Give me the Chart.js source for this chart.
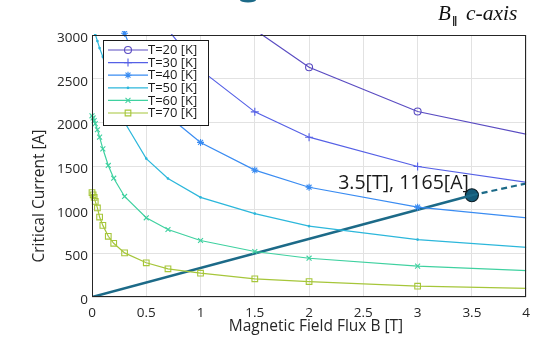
<!DOCTYPE html>
<html>
<head>
<meta charset="utf-8">
<script src="https://cdn.jsdelivr.net/npm/chart.js@4/dist/chart.umd.min.js"></script>
<style>
  html, body { margin: 0; padding: 0; background: #fff; }
  #wrap { width: 538px; height: 337px; }
</style>
</head>
<body>
<div id="wrap"><canvas id="icChart" width="538" height="337"></canvas></div>
<script>
// DATA
const bField = [0, 0.01, 0.02, 0.03, 0.05, 0.07, 0.1, 0.15, 0.2, 0.3, 0.5, 0.7, 1, 1.5, 2, 3, 5];
const ic20 = [null, null, null, null, null, null, null, null, null, null, null, null, 3700, 3060, 2631, 2124, 1604];
const ic30 = [null, null, null, null, null, null, null, null, null, null, 3600, 3060, 2600, 2120, 1830, 1494, 1136];
const ic40 = [null, null, null, null, null, null, null, null, 3500, 3020, 2420, 2075, 1770, 1453, 1257, 1029, 785];
const ic50 = [3200, 3150, 3080, 3010, 2930, 2850, 2750, 2480, 2300, 2000, 1585, 1357, 1141, 955, 811, 658, 482];
const ic60 = [2075, 2050, 2020, 1985, 1915, 1830, 1697, 1506, 1360, 1151, 907, 773, 647, 521, 444, 353, 253];
const ic70 = [1195, 1170, 1140, 1095, 1020, 915, 820, 695, 615, 505, 392, 323, 273, 208, 177, 124, 76];
const tempLabels = ['T=20 [K]', 'T=30 [K]', 'T=40 [K]', 'T=50 [K]', 'T=60 [K]', 'T=70 [K]'];
const loadLineB = [0, 3.5];
const loadLineI = [0, 1165];
const loadDashB = [3.5, 4];
const loadDashI = [1165, 1300];
const opPoint = [3.5, 1165];
const xTicks = [0, 0.5, 1, 1.5, 2, 2.5, 3, 3.5, 4];
const yTicks = [0, 500, 1000, 1500, 2000, 2500, 3000];

const FONT = '"Open Sans", "Noto Sans", sans-serif';
const TEXT = '#262626';

function pts(xs, ys) {
  return xs.map((b, i) => ({ x: b, y: ys[i] }));
}

const curveStyles = [
  { color: '#5a4cc2', pointStyle: 'circle', radius: 3.5 },
  { color: '#5560e6', pointStyle: 'cross', radius: 4 },
  { color: '#3a8cf2', pointStyle: 'star', radius: 3.5 },
  { color: '#2cb7db', pointStyle: 'circle', radius: 0.8 },
  { color: '#3fd1a0', pointStyle: 'crossRot', radius: 3.5 },
  { color: '#a6c63a', pointStyle: 'rect', radius: 4 }
];

const curves = [ic20, ic30, ic40, ic50, ic60, ic70];

const datasets = curves.map((vals, i) => ({
  label: tempLabels[i],
  data: pts(bField, vals),
  borderColor: curveStyles[i].color,
  backgroundColor: 'transparent',
  borderWidth: 1.2,
  pointStyle: curveStyles[i].pointStyle,
  pointRadius: curveStyles[i].radius,
  pointBorderColor: curveStyles[i].color,
  pointBackgroundColor: i === 3 ? curveStyles[i].color : 'transparent',
  pointBorderWidth: 1.1,
  tension: 0,
  clip: { left: 6, top: i === 2 ? 4 : 1, right: 0, bottom: 0 }
}));

datasets.push({
  label: 'load',
  data: pts(loadLineB, loadLineI),
  borderColor: '#1c6a88',
  borderWidth: 2.6,
  pointRadius: 0,
  clip: 0
});
datasets.push({
  label: 'load ext',
  data: pts(loadDashB, loadDashI),
  borderColor: '#1c6a88',
  borderWidth: 2.2,
  borderDash: [6, 4],
  pointRadius: 0,
  clip: 0
});
datasets.push({
  label: 'op',
  data: [{ x: opPoint[0], y: opPoint[1] }],
  showLine: false,
  pointRadius: 6.5,
  pointBackgroundColor: '#145a78',
  pointBorderColor: '#0a1c24',
  pointBorderWidth: 1.2,
  clip: false
});

function marker(ctx, style, x, y) {
  if (Chart.helpers && Chart.helpers.drawPoint) {
    Chart.helpers.drawPoint(ctx, { pointStyle: style.pointStyle, radius: style.radius, rotation: 0, borderWidth: 1.1 }, x, y);
  }
}

// legend, frame, annotations
const overlay = {
  id: 'overlay',
  afterDatasetsDraw(chart) {
    const { ctx, chartArea: a, scales } = chart;
    const xs = scales.x, ys = scales.y;
    ctx.save();

    // plot box
    ctx.strokeStyle = TEXT;
    ctx.lineWidth = 1;
    ctx.strokeRect(Math.round(a.left) + 0.5, Math.round(a.top) + 0.5,
      Math.round(a.right - a.left) - 1, Math.round(a.bottom - a.top) - 1);

    // operating point label
    const px = xs.getPixelForValue(opPoint[0]);
    const py = ys.getPixelForValue(opPoint[1]);
    ctx.fillStyle = '#1a1a1a';
    ctx.font = '19.5px ' + FONT;
    ctx.textAlign = 'right';
    ctx.textBaseline = 'alphabetic';
    ctx.fillText(opPoint[0] + '[T], ' + opPoint[1] + '[A]', px - 3, py - 6);

    // legend box
    const lx = 103.5, ly = 40.5, lw = 105, lh = 85;
    ctx.fillStyle = '#fff';
    ctx.fillRect(lx, ly, lw, lh);
    ctx.strokeStyle = '#1a1a1a';
    ctx.strokeRect(lx, ly, lw, lh);
    ctx.font = '13px ' + FONT;
    ctx.textAlign = 'left';
    ctx.textBaseline = 'middle';
    tempLabels.forEach((t, i) => {
      const st = curveStyles[i];
      const ry = 50 + i * 12.6;
      ctx.strokeStyle = st.color;
      ctx.fillStyle = i === 3 ? st.color : 'transparent';
      ctx.lineWidth = 1.2;
      ctx.beginPath();
      ctx.moveTo(108, ry);
      ctx.lineTo(148, ry);
      ctx.stroke();
      ctx.lineWidth = 1.1;
      marker(ctx, st, 128, ry);
      ctx.fillStyle = '#1a1a1a';
      ctx.fillText(t, 148, ry + 0.5);
    });

    // axis titles
    ctx.fillStyle = TEXT;
    ctx.font = '15.5px ' + FONT;
    ctx.textAlign = 'center';
    ctx.textBaseline = 'middle';
    ctx.fillText('Magnetic Field Flux B [T]', 316, 327);
    ctx.save();
    ctx.translate(40, 196);
    ctx.rotate(-Math.PI / 2);
    ctx.fillText('Critical Current [A]', 0, 0);
    ctx.restore();

    // title
    ctx.fillStyle = '#111';
    ctx.textAlign = 'left';
    ctx.textBaseline = 'alphabetic';
    ctx.font = 'italic 21px "Liberation Serif", "DejaVu Serif", serif';
    ctx.fillText('B', 438, 20);
    ctx.font = 'bold 11px "Liberation Serif", "DejaVu Serif", serif';
    ctx.fillText('\u2225', 452, 25);
    ctx.font = 'italic 21.5px "Liberation Serif", "DejaVu Serif", serif';
    ctx.fillText('c-axis', 466, 20);

    // cropped figure piece at the top edge
    ctx.fillStyle = '#1c6a88';
    ctx.beginPath();
    ctx.ellipse(248, 0, 8, 2.5, 0, 0, Math.PI);
    ctx.fill();

    ctx.restore();
  }
};

new Chart(document.getElementById('icChart'), {
  type: 'line',
  data: { datasets },
  options: {
    responsive: false,
    animation: false,
    layout: { padding: { left: 0, right: 10, top: 35, bottom: 0 } },
    plugins: {
      legend: { display: false },
      tooltip: { enabled: false }
    },
    scales: {
      x: {
        type: 'linear',
        min: 0,
        max: 4,
        afterFit(scale) { scale.height = 40; },
        afterBuildTicks(scale) { scale.ticks = xTicks.map(v => ({ value: v })); },
        border: { display: false },
        grid: { color: '#e2e2e2', drawTicks: false },
        ticks: {
          padding: 8,
          maxRotation: 0,
          color: TEXT,
          font: { family: FONT, size: 13.5 },
          callback: v => String(v)
        }
      },
      y: {
        type: 'linear',
        min: 0,
        max: 3000,
        afterFit(scale) { scale.width = 92; },
        afterBuildTicks(scale) { scale.ticks = yTicks.map(v => ({ value: v })); },
        border: { display: false },
        grid: { color: '#e2e2e2', drawTicks: false },
        ticks: {
          padding: 4,
          labelOffset: 3,
          color: TEXT,
          font: { family: FONT, size: 13.5 },
          callback: v => String(v)
        }
      }
    }
  },
  plugins: [overlay]
});
</script>
</body>
</html>
